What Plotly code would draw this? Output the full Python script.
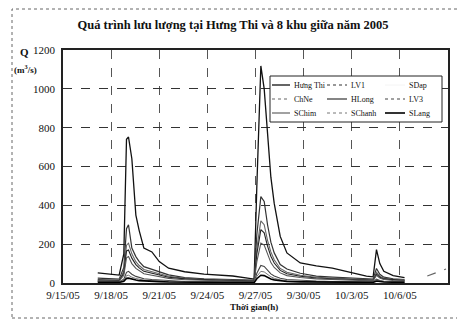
import plotly.graph_objects as go

# ---- data ----
times = ["2005-09-17 04:00", "2005-09-18 00:00", "2005-09-18 12:00", "2005-09-18 19:00",
         "2005-09-18 23:00", "2005-09-19 02:00", "2005-09-19 07:00", "2005-09-19 13:00",
         "2005-09-19 18:00", "2005-09-20 01:00", "2005-09-20 13:00", "2005-09-21 00:00",
         "2005-09-21 14:00", "2005-09-22 14:00", "2005-09-23 19:00", "2005-09-25 14:00",
         "2005-09-26 12:00", "2005-09-26 22:00", "2005-09-27 02:00", "2005-09-27 08:00",
         "2005-09-27 13:00", "2005-09-27 18:00", "2005-09-27 23:00", "2005-09-28 04:00",
         "2005-09-28 13:00", "2005-09-28 23:00", "2005-09-29 19:00", "2005-09-30 19:00",
         "2005-10-01 19:00", "2005-10-02 22:00", "2005-10-03 22:00", "2005-10-04 08:00",
         "2005-10-04 13:00", "2005-10-04 18:00", "2005-10-05 00:00", "2005-10-05 14:00",
         "2005-10-06 07:00"]

hung_thi = [52, 45, 41, 150, 740, 752, 640, 350, 270, 180, 160, 110, 76, 58, 46, 36, 25, 20,
            500, 1118, 1000, 760, 545, 410, 240, 155, 103, 88, 77, 55, 35, 32, 172, 100, 60, 38, 28]
lv1 = [25, 22, 20, 80, 280, 300, 180, 136, 110, 84, 70, 60, 42, 28, 22, 18, 14, 15,
       250, 445, 420, 300, 210, 155, 95, 72, 50, 35, 30, 26, 22, 20, 75, 45, 30, 22, 18]
sdap = [3, 3, 2, 6, 12, 12, 9, 7, 6, 5, 4, 3, 3, 2, 2, 2, 1, 1,
        11, 20, 19, 14, 10, 8, 5, 4, 3, 3, 2, 2, 2, 2, 5, 4, 3, 2, 2]
chne = [18, 16, 15, 60, 195, 205, 150, 110, 90, 70, 58, 48, 35, 24, 18, 14, 11, 12,
        180, 320, 300, 220, 160, 120, 75, 55, 40, 30, 26, 22, 18, 16, 55, 35, 25, 18, 15]
hlong = [15, 14, 13, 50, 165, 170, 128, 95, 78, 60, 50, 41, 30, 21, 16, 12, 10, 10,
         150, 275, 258, 190, 138, 103, 65, 48, 35, 26, 22, 19, 16, 14, 46, 30, 21, 16, 13]
lv3 = [8, 7, 7, 20, 55, 60, 45, 34, 28, 22, 18, 15, 11, 8, 6, 5, 4, 4,
       50, 90, 85, 64, 47, 36, 24, 18, 13, 10, 8, 7, 6, 5, 20, 13, 9, 7, 6]
schim = [12, 11, 10, 40, 130, 136, 100, 75, 62, 48, 40, 33, 24, 17, 13, 10, 8, 8,
         110, 205, 195, 145, 105, 80, 52, 38, 28, 21, 18, 15, 13, 11, 40, 26, 18, 13, 11]
schanh = [6, 5, 5, 14, 38, 40, 30, 23, 19, 15, 12, 10, 8, 6, 5, 4, 3, 3,
          34, 60, 57, 43, 32, 24, 16, 12, 9, 7, 6, 5, 4, 4, 15, 10, 7, 5, 4]
slang = [4, 4, 3, 9, 24, 25, 19, 15, 12, 10, 8, 7, 5, 4, 3, 3, 2, 2,
         22, 40, 38, 28, 21, 16, 11, 8, 6, 5, 4, 3, 3, 3, 10, 7, 5, 4, 3]

tail_times = ["2005-10-07 17:00", "2005-10-08 05:00", "2005-10-08 21:00"]
tail_values = [36, 50, 72]

series_names = ["Hưng Thi", "LV1", "SDap", "ChNe", "HLong", "LV3", "SChim", "SChanh", "SLang"]
series_values = [hung_thi, lv1, sdap, chne, hlong, lv3, schim, schanh, slang]

x_ticks = ["2005-09-15", "2005-09-18", "2005-09-21", "2005-09-24", "2005-09-27",
           "2005-09-30", "2005-10-03", "2005-10-06", "2005-10-09"]
x_tick_text = ["9/15/05", "9/18/05", "9/21/05", "9/24/05", "9/27/05",
               "9/30/05", "10/3/05", "10/6/05", "10/9/05"]
y_ticks = [0, 200, 400, 600, 800, 1000, 1200]

title_text = "Quá trình lưu lượng tại Hưng Thi và 8 khu giữa năm 2005"

# ---- styles ----
styles = {
    "Hưng Thi": dict(color="#111111", width=1.3, dash="solid"),
    "LV1": dict(color="#333333", width=1.2, dash="solid"),
    "SDap": dict(color="#f4f4f4", width=1.0, dash="solid"),
    "ChNe": dict(color="#666666", width=1.1, dash="solid"),
    "HLong": dict(color="#222222", width=1.1, dash="solid"),
    "LV3": dict(color="#444444", width=1.1, dash="solid"),
    "SChim": dict(color="#555555", width=1.1, dash="solid"),
    "SChanh": dict(color="#777777", width=1.0, dash="solid"),
    "SLang": dict(color="#000000", width=1.6, dash="solid"),
}
legend_dash = {"Hưng Thi": "solid", "LV1": "dot", "SDap": "solid", "ChNe": "dot",
               "HLong": "solid", "LV3": "dot", "SChim": "solid", "SChanh": "dot", "SLang": "solid"}

FONT = "Liberation Serif"
fig = go.Figure()

for name, vals in zip(series_names, series_values):
    fig.add_trace(go.Scatter(x=times, y=vals, mode="lines", name=name,
                             line=styles[name], showlegend=False))

fig.add_trace(go.Scatter(x=tail_times, y=tail_values, mode="lines", showlegend=False,
                         line=dict(color="#666666", width=1.2, dash="dash")))

# page offset (browser body margin) and figure size
OFF = 8
W, H = 465 - OFF, 320 - OFF
# plot area in page px: x 63..448, y 50..283
L, R, T, B = 63, 448, 50, 283
def px(xp):
    return (xp - L) / (R - L)
def py(yp):
    return (B - yp) / (B - T)

shapes = []
annotations = []
# outer dotted chart border
shapes.append(dict(type="rect", xref="paper", yref="paper",
                   x0=px(12), x1=px(461), y0=py(318), y1=py(9),
                   line=dict(color="#666666", width=1, dash="dot")))
# legend box
shapes.append(dict(type="rect", xref="paper", yref="paper",
                   x0=px(270), x1=px(442), y0=py(122), y1=py(76),
                   fillcolor="white", line=dict(color="#222222", width=1)))
col_line = [(272, 290), (327, 347), (385, 405)]
col_text = [292, 349, 407]
row_y = [85, 99, 113]
for i, name in enumerate(series_names):
    r, c = divmod(i, 3)
    st = styles[name]
    shapes.append(dict(type="line", xref="paper", yref="paper",
                       x0=px(col_line[c][0]), x1=px(col_line[c][1]),
                       y0=py(row_y[r]), y1=py(row_y[r]),
                       line=dict(color=st["color"], width=st["width"], dash=legend_dash[name])))
    annotations.append(dict(xref="paper", yref="paper", x=px(col_text[c]), y=py(row_y[r]),
                            xanchor="left", yanchor="middle", showarrow=False, text=name,
                            font=dict(family=FONT, size=8, color="#111111")))

annotations.append(dict(xref="paper", yref="paper", x=px(24), y=py(52), text="<b>Q</b>",
                        showarrow=False, xanchor="center", yanchor="middle",
                        font=dict(family=FONT, size=11, color="#111111")))
annotations.append(dict(xref="paper", yref="paper", x=px(25), y=py(69), text="<b>(m<sup>3</sup>/s)</b>",
                        showarrow=False, xanchor="center", yanchor="middle",
                        font=dict(family=FONT, size=9, color="#111111")))
annotations.append(dict(xref="paper", yref="paper", x=px(254), y=py(307), text="<b>Thời gian(h)</b>",
                        showarrow=False, xanchor="center", yanchor="middle",
                        font=dict(family=FONT, size=9, color="#111111")))

fig.update_layout(
    width=W, height=H,
    margin=dict(l=L - OFF, r=465 - R, t=T - OFF, b=320 - B),
    paper_bgcolor="white", plot_bgcolor="white",
    font=dict(family=FONT, size=11, color="#111111"),
    title=dict(text="<b>" + title_text + "</b>", x=(233 - OFF) / W, xref="container", xanchor="center",
               y=1 - (25 - OFF) / H, yanchor="middle", font=dict(family=FONT, size=12.5, color="#111111")),
    showlegend=False,
    shapes=shapes, annotations=annotations,
)
fig.update_xaxes(type="date", range=["2005-09-15", "2005-10-09"],
                 tickvals=x_ticks, ticktext=x_tick_text, ticks="", ticklabelstandoff=1,
                 showgrid=True, gridcolor="#555555", griddash="dash", gridwidth=1,
                 showline=True, linecolor="#222222", linewidth=1.5, mirror=True,
                 zeroline=False, tickfont=dict(family=FONT, size=11))
fig.update_yaxes(range=[0, 1200], tickvals=y_ticks, ticks="", ticklabelstandoff=4,
                 showgrid=True, gridcolor="#333333", griddash="dash", gridwidth=1,
                 showline=True, linecolor="#222222", linewidth=1.5, mirror=True,
                 zeroline=False, tickfont=dict(family=FONT, size=11))

fig.write_html("out.html")
